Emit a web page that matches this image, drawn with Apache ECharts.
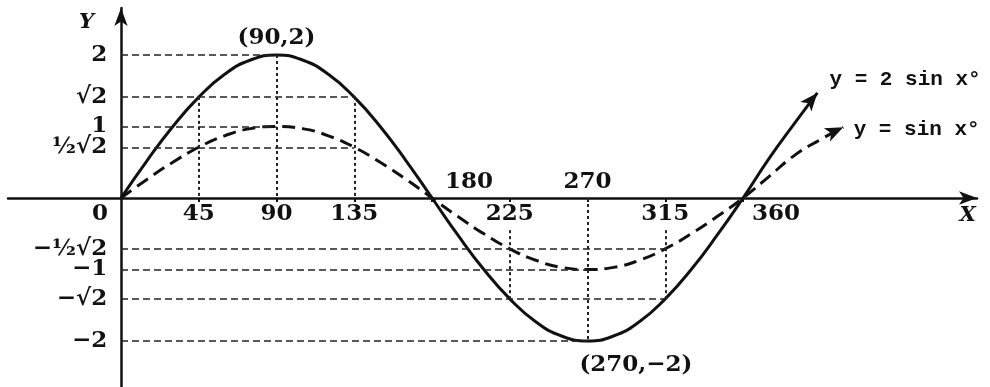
<!DOCTYPE html>
<html><head><meta charset="utf-8">
<script src="https://cdn.jsdelivr.net/npm/echarts@6/dist/echarts.min.js"></script>
<style>html,body{margin:0;padding:0;background:#fff}#c{width:990px;height:387px}</style>
</head><body><div id="c"></div>
<script>
// ---- data ----
const solidX = [0,15,30,45,60,75,90,105,120,135,150,165,180,195,210,225,240,255,270,285,300,315,330,345,360,375,390,403];
const solidY = [0,0.52,1.0,1.41,1.73,1.93,2,1.93,1.73,1.41,1.0,0.52,0,-0.52,-1.0,-1.41,-1.73,-1.93,-2,-1.93,-1.73,-1.41,-1.0,-0.52,0,0.55,1.05,1.47];
const dashX = [0,15,30,45,60,75,90,105,120,135,150,165,180,195,210,225,240,255,270,285,300,315,330,345,360,375,390,405,418];
const dashY = [0,0.26,0.5,0.71,0.87,0.97,1,0.97,0.87,0.71,0.5,0.26,0,-0.26,-0.5,-0.71,-0.87,-0.97,-1,-0.97,-0.87,-0.71,-0.5,-0.26,0,0.3,0.6,0.82,0.99];
const xTickBelow = [0,45,90,135,225,315,360];
const xTickAbove = [180,270];
const yTickValues = [2,1.414,1,0.707,-0.707,-1,-1.414,-2];
const yTickLabels = ['2','√2','1','½√2','−½√2','−1','−√2','−2'];
// horizontal guides: [y, x end]
const hGuides = [[2,90],[1.414,135],[1,90],[0.707,135],[-0.707,315],[-1,270],[-1.414,315],[-2,270]];
// vertical guides: [x, y from, y to]
const vGuides = [[45,1.414,0],[90,2,0],[135,1.414,0],[225,-0.45,-1.414],[270,0,-2],[315,-0.45,-1.414]];
// annotations: [text, x, y]
const notes = [['(90,2)',90,2.24],['(270,−2)',298,-2.34]];
const curveNames = [['y = 2 sin x°',410,1.65],['y = sin x°',424,0.95]];
const axisNames = [['Y',-20,2.45],['X',490,-0.24]];

const zip = (a,b)=>a.map((v,i)=>[v,b[i]]);
const INK = '#111';
const numFont = {fontFamily:'DejaVu Serif',fontWeight:'bold',fontSize:23,color:INK,opacity:1};

function withArrow(pts, rot){
  return pts.map((p,i)=> i===pts.length-1 ? {value:p,symbol:'arrow',symbolSize:[11,18],symbolRotate:rot,itemStyle:{color:INK}} : {value:p});
}
function textItem(value, text, style){
  return {value:value,label:Object.assign({show:true,formatter:text,position:'inside',align:'center',verticalAlign:'middle'},numFont,style||{})};
}

const labelItems = []
  .concat(xTickBelow.map(v=>textItem([v,0],String(v),{verticalAlign:'top',offset:[v===0?-21:(v===360?33:0),5]})))
  .concat(xTickAbove.map(v=>textItem([v,0],String(v),{verticalAlign:'bottom',offset:[v===180?37:0,-4]})))
  .concat(yTickValues.map((v,i)=>textItem([-8,v],yTickLabels[i],{align:'right'})))
  .concat(notes.map(n=>textItem([n[1],n[2]],n[0])))
  .concat(curveNames.map(n=>textItem([n[1],n[2]],n[0],{align:'left',fontFamily:'Liberation Mono',fontWeight:'bold',fontSize:21})))
  .concat(axisNames.map(n=>textItem([n[1],n[2]],n[0],{fontStyle:'italic',fontSize:21})));

const chart = echarts.init(document.getElementById('c'));
chart.setOption({
  animation:false,
  backgroundColor:'#fff',
  grid:{left:8,right:13,top:8,bottom:0,containLabel:false,outerBoundsMode:'none'},
  xAxis:[{
    type:'value',min:-65.4,max:495.4,
    axisLine:{onZero:true,symbol:['none','arrow'],symbolSize:[10,18],lineStyle:{color:INK,width:2.5}},
    axisTick:{show:true,customValues:[45,90,135,180,225,270,315,360],length:4,lineStyle:{color:INK,width:2}},
    splitLine:{show:false},
    axisLabel:{show:false}
  }],
  yAxis:[{
    type:'value',min:-2.643,max:2.657,
    axisLine:{onZero:true,symbol:['none','arrow'],symbolSize:[10,18],lineStyle:{color:INK,width:2.5}},
    axisTick:{show:false},
    splitLine:{show:false},
    axisLabel:{show:false}
  }],
  series:[
    {
      name:'y = 2 sin x°',type:'line',smooth:true,symbol:'none',showSymbol:true,
      data:withArrow(zip(solidX,solidY),-40),
      lineStyle:{color:INK,width:3},itemStyle:{color:INK},
      markLine:{
        silent:true,symbol:['none','none'],label:{show:false},
        lineStyle:{color:'#222',width:1.5,type:[7,4]},
        data: hGuides.map(g=>[{coord:[0,g[0]]},{coord:[g[1],g[0]]}])
          .concat(vGuides.map(g=>[{coord:[g[0],g[1]],lineStyle:{type:[3,3],width:2}},{coord:[g[0],g[2]]}]))
      }
    },
    {
      name:'y = sin x°',type:'line',smooth:true,symbol:'none',showSymbol:true,
      data:withArrow(zip(dashX,dashY),-65),
      lineStyle:{color:INK,width:3,type:[13,7]},itemStyle:{color:INK}
    },
    {
      type:'scatter',symbolSize:0,silent:true,z:5,
      itemStyle:{opacity:1,color:INK},
      data:labelItems
    }
  ]
});
</script></body></html>
